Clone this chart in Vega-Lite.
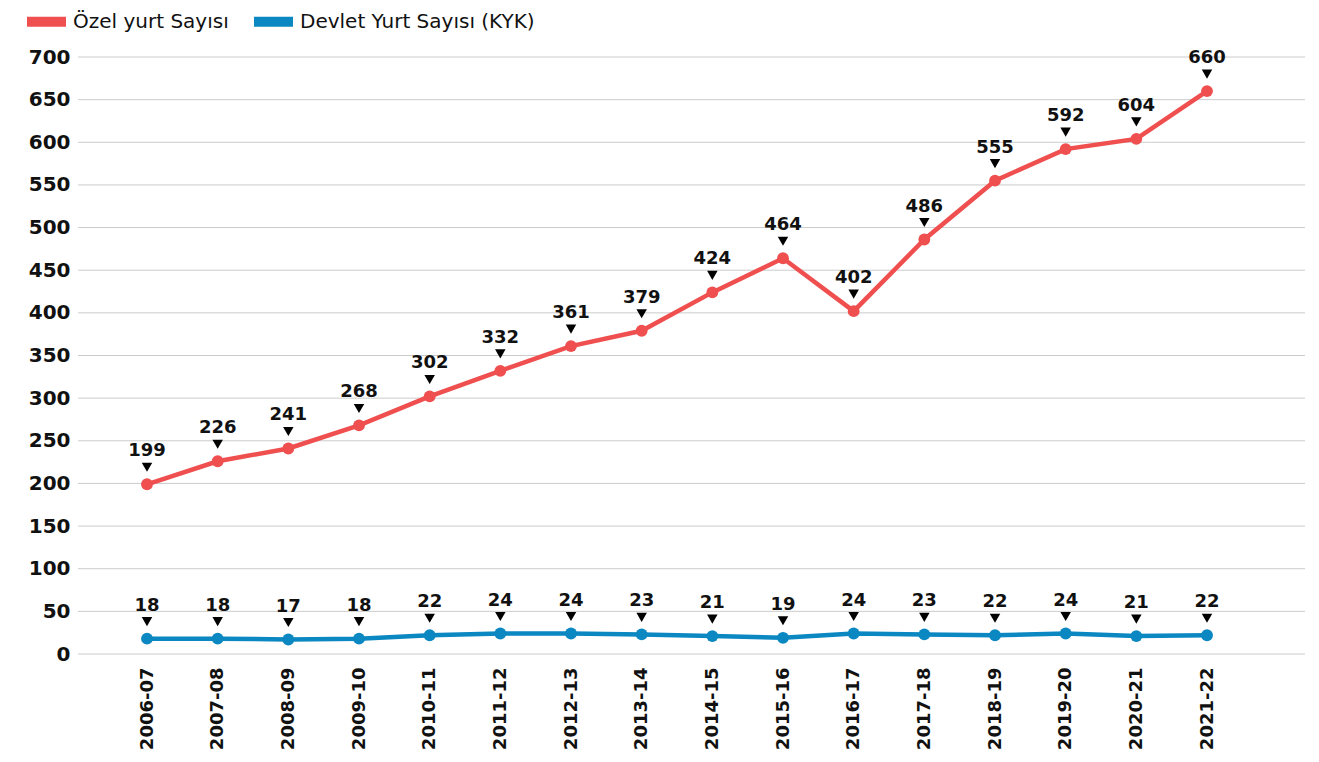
{
  "$schema": "https://vega.github.io/schema/vega-lite/v6.json",
  "autosize": {"type": "none"},
  "padding": {"left": 78, "top": 57, "right": 14, "bottom": 108},
  "width": 1227,
  "height": 597,
  "background": "white",
  "config": {
    "view": {"stroke": null},
    "font": "DejaVu Sans"
  },
  "datasets": {
    "izgara": [
      {"deger": 0}, {"deger": 50}, {"deger": 100}, {"deger": 150}, {"deger": 200},
      {"deger": 250}, {"deger": 300}, {"deger": 350}, {"deger": 400}, {"deger": 450},
      {"deger": 500}, {"deger": 550}, {"deger": 600}, {"deger": 650}, {"deger": 700}
    ],
    "yurtlar": [
      {"yil": "2006-07", "seri": "Özel yurt Sayısı", "sayi": 199},
      {"yil": "2007-08", "seri": "Özel yurt Sayısı", "sayi": 226},
      {"yil": "2008-09", "seri": "Özel yurt Sayısı", "sayi": 241},
      {"yil": "2009-10", "seri": "Özel yurt Sayısı", "sayi": 268},
      {"yil": "2010-11", "seri": "Özel yurt Sayısı", "sayi": 302},
      {"yil": "2011-12", "seri": "Özel yurt Sayısı", "sayi": 332},
      {"yil": "2012-13", "seri": "Özel yurt Sayısı", "sayi": 361},
      {"yil": "2013-14", "seri": "Özel yurt Sayısı", "sayi": 379},
      {"yil": "2014-15", "seri": "Özel yurt Sayısı", "sayi": 424},
      {"yil": "2015-16", "seri": "Özel yurt Sayısı", "sayi": 464},
      {"yil": "2016-17", "seri": "Özel yurt Sayısı", "sayi": 402},
      {"yil": "2017-18", "seri": "Özel yurt Sayısı", "sayi": 486},
      {"yil": "2018-19", "seri": "Özel yurt Sayısı", "sayi": 555},
      {"yil": "2019-20", "seri": "Özel yurt Sayısı", "sayi": 592},
      {"yil": "2020-21", "seri": "Özel yurt Sayısı", "sayi": 604},
      {"yil": "2021-22", "seri": "Özel yurt Sayısı", "sayi": 660},
      {"yil": "2006-07", "seri": "Devlet Yurt Sayısı (KYK)", "sayi": 18},
      {"yil": "2007-08", "seri": "Devlet Yurt Sayısı (KYK)", "sayi": 18},
      {"yil": "2008-09", "seri": "Devlet Yurt Sayısı (KYK)", "sayi": 17},
      {"yil": "2009-10", "seri": "Devlet Yurt Sayısı (KYK)", "sayi": 18},
      {"yil": "2010-11", "seri": "Devlet Yurt Sayısı (KYK)", "sayi": 22},
      {"yil": "2011-12", "seri": "Devlet Yurt Sayısı (KYK)", "sayi": 24},
      {"yil": "2012-13", "seri": "Devlet Yurt Sayısı (KYK)", "sayi": 24},
      {"yil": "2013-14", "seri": "Devlet Yurt Sayısı (KYK)", "sayi": 23},
      {"yil": "2014-15", "seri": "Devlet Yurt Sayısı (KYK)", "sayi": 21},
      {"yil": "2015-16", "seri": "Devlet Yurt Sayısı (KYK)", "sayi": 19},
      {"yil": "2016-17", "seri": "Devlet Yurt Sayısı (KYK)", "sayi": 24},
      {"yil": "2017-18", "seri": "Devlet Yurt Sayısı (KYK)", "sayi": 23},
      {"yil": "2018-19", "seri": "Devlet Yurt Sayısı (KYK)", "sayi": 22},
      {"yil": "2019-20", "seri": "Devlet Yurt Sayısı (KYK)", "sayi": 24},
      {"yil": "2020-21", "seri": "Devlet Yurt Sayısı (KYK)", "sayi": 21},
      {"yil": "2021-22", "seri": "Devlet Yurt Sayısı (KYK)", "sayi": 22}
    ]
  },
  "layer": [
    {
      "data": {"name": "izgara"},
      "mark": {"type": "rule", "color": "#cccccc", "strokeWidth": 1},
      "encoding": {
        "y": {"field": "deger", "type": "quantitative"}
      }
    },
    {
      "data": {"name": "yurtlar"},
      "encoding": {
        "x": {
          "field": "yil",
          "type": "ordinal",
          "sort": null,
          "scale": {"type": "point", "padding": 0, "range": [69, 1129]},
          "axis": {
            "title": null,
            "labelAngle": -90,
            "labelFontSize": 18,
            "labelFontWeight": "bold",
            "labelColor": "#111111",
            "labelPadding": 13,
            "domain": false,
            "ticks": false,
            "grid": false
          }
        },
        "y": {
          "field": "sayi",
          "type": "quantitative",
          "scale": {"domain": [0, 700], "nice": false},
          "axis": {
            "title": null,
            "values": [0, 50, 100, 150, 200, 250, 300, 350, 400, 450, 500, 550, 600, 650, 700],
            "labelFontSize": 20,
            "labelFontWeight": "bold",
            "labelColor": "#111111",
            "labelPadding": 8,
            "domain": false,
            "ticks": false,
            "grid": false
          }
        }
      },
      "layer": [
        {
          "mark": {"type": "line", "strokeWidth": 4.5},
          "encoding": {
            "color": {
              "field": "seri",
              "type": "nominal",
              "scale": {
                "domain": ["Özel yurt Sayısı", "Devlet Yurt Sayısı (KYK)"],
                "range": ["#EF4F4F", "#0B87C1"]
              },
              "legend": {
                "title": null,
                "orient": "none",
                "direction": "horizontal",
                "legendX": -51,
                "legendY": -55,
                "symbolType": "M-1,-0.26H1V0.26H-1Z",
                "symbolSize": 1521,
                "symbolStrokeWidth": 0,
                "labelFontSize": 20,
                "labelFont": "DejaVu Sans",
                "labelColor": "#111111",
                "labelOffset": 7,
                "columnPadding": 25,
                "labelLimit": 400,
                "encode": {
                  "symbols": {
                    "update": {
                      "fill": {"signal": "scale('color', datum.value)"},
                      "opacity": {"value": 1}
                    }
                  }
                }
              }
            }
          }
        },
        {
          "mark": {"type": "point", "filled": true, "size": 140, "opacity": 1},
          "encoding": {
            "color": {"field": "seri", "type": "nominal", "legend": null}
          }
        },
        {
          "mark": {"type": "point", "shape": "triangle-down", "filled": true, "size": 110, "color": "#000000", "opacity": 1, "yOffset": -17}
        },
        {
          "mark": {"type": "text", "dy": -28, "baseline": "alphabetic", "align": "center", "fontSize": 18, "fontWeight": "bold", "color": "#111111"},
          "encoding": {
            "text": {"field": "sayi", "type": "quantitative"}
          }
        }
      ]
    }
  ]
}
